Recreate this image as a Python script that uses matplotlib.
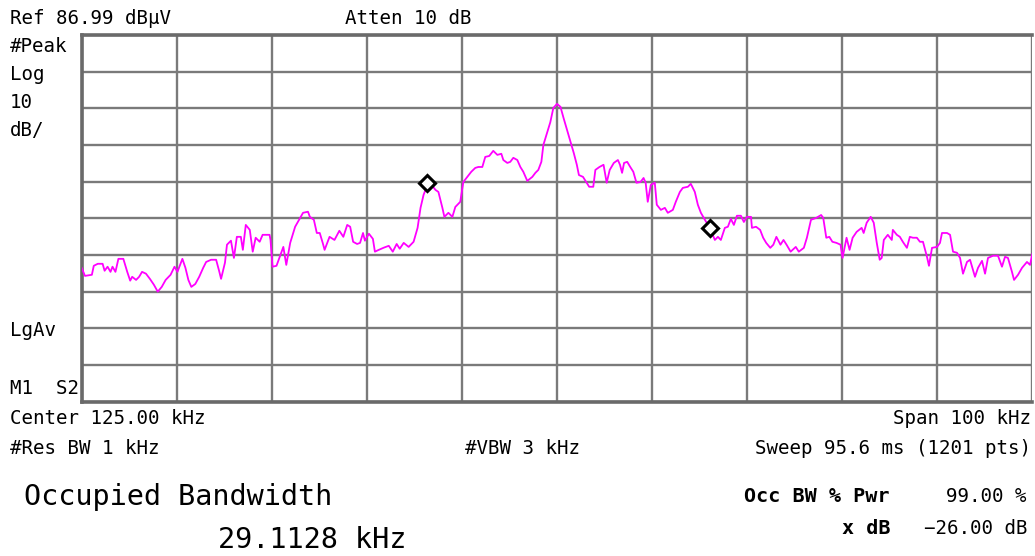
import numpy as np
import matplotlib
matplotlib.use("Agg")
import matplotlib.pyplot as plt

# spectrum trace (kHz, dBuV)
freq_khz = [
    75.0, 75.34, 76.07, 76.27, 76.69, 77.20, 77.41, 77.72, 78.03, 78.24, 78.55, 78.86,
    79.38, 79.79, 80.10, 80.31, 80.72, 81.04, 81.35, 81.76, 82.17, 82.59, 83.00, 83.42,
    83.83, 84.35, 84.76, 85.07, 85.59, 85.91, 86.22, 86.53, 86.95, 87.36, 87.78, 88.09,
    88.61, 89.14, 89.45, 89.66, 90.07, 90.28, 90.70, 91.01, 91.32, 91.74,
    91.95, 92.26, 92.68, 92.99, 93.30, 93.72, 94.03, 94.76, 94.86,
    95.07, 95.49, 95.90, 96.21, 96.52, 96.93, 97.45, 97.97, 98.28, 98.80, 99.00, 99.42,
    99.73, 100.04, 100.35, 100.55, 101.07, 101.59, 102.10, 102.52, 102.93, 103.24, 103.55,
    103.97, 104.28, 104.59, 104.79,
    105.21, 105.63, 105.84, 106.25, 106.78, 107.30, 107.72, 108.13, 108.45,
    108.87, 109.39, 109.91, 110.33, 110.64, 110.96, 111.37, 111.90, 112.21, 112.52, 112.94,
    113.15, 113.57, 113.99, 114.30, 114.82,
    115.14, 115.56, 115.98, 116.40, 116.72, 117.14, 117.45, 117.87, 118.29, 118.72, 119.14,
    119.35, 119.77, 120.08, 120.40, 120.82, 121.14, 121.45, 121.87, 122.40, 122.72, 123.03,
    123.35, 123.56, 123.98, 124.29, 124.61, 125.0,
    125.36, 125.68, 126.11, 126.44, 126.76, 127.08, 127.30, 127.73, 128.06, 128.38, 128.81,
    129.03, 129.46, 129.89, 130.22, 130.54, 130.97, 131.40, 131.62, 131.84, 132.05, 132.38,
    132.70, 133.02, 133.35, 133.78, 134.10, 134.32, 134.54, 134.86,
    135.28, 135.49, 135.92, 136.34, 136.65, 137.18, 137.49, 137.92, 138.23, 138.76, 139.07,
    139.49, 139.81, 140.13, 140.55, 141.07, 141.60, 141.92, 142.23, 142.65, 142.97, 143.28,
    143.60, 143.92, 144.34, 144.65, 144.97,
    145.40, 145.50, 145.93, 146.36, 146.68, 147.00, 147.43, 147.75, 148.07, 148.50, 148.82,
    149.14, 149.57, 150.11, 150.43, 150.96, 151.28, 151.71, 152.25, 152.78, 153.00, 153.32,
    153.64, 153.96, 154.39, 154.82,
    155.03, 155.45, 155.77, 156.09, 156.51, 157.04, 157.25, 157.57, 157.99, 158.31, 158.63,
    158.94, 159.15, 159.37, 159.79, 160.21, 160.32, 160.74, 161.06, 161.37, 161.80, 162.11,
    162.43, 162.85, 163.17, 163.49, 163.91, 164.12, 164.44,
    164.97, 165.28, 165.49, 166.02, 166.34, 166.65, 167.07, 167.39, 167.70, 168.12, 168.44,
    168.96, 169.28, 169.70, 170.02, 170.33, 170.86, 171.38, 171.80, 172.12, 172.43, 172.85,
    173.07, 173.49, 173.91, 174.43, 174.75, 175.0,
]
level_dbuv = [
    23.5, 21.3, 21.6, 24.05, 24.6, 24.6, 22.7, 23.8, 22.4, 23.8, 22.4, 25.95,
    25.95, 22.4, 20.0, 21.05, 20.2, 21.05, 22.4, 21.9, 20.5, 18.9, 17.0, 18.3,
    20.2, 21.6, 23.8, 22.4, 25.95, 23.5, 20.2, 18.3, 19.1, 21.05, 23.5, 25.1,
    25.7, 25.7, 22.7, 20.5, 24.9, 29.8, 30.9, 26.2, 31.95, 31.95,
    28.4, 35.2, 33.85, 27.9, 31.7, 30.6, 32.5, 32.5, 31.1,
    23.8, 24.05, 27.0, 29.2, 24.3, 30.3, 34.7, 37.1, 38.5, 38.8, 37.4, 36.6,
    33.0, 33.0, 30.3, 28.4, 31.95, 31.1, 33.6, 31.95, 35.2, 34.7, 30.6,
    30.0, 30.3, 33.0, 30.9,
    32.8, 31.4, 27.9, 28.4, 29.0, 29.5, 27.9, 30.0, 28.7,
    30.3, 29.2, 30.6, 34.4, 39.85, 43.4, 46.1, 45.8, 44.75, 44.2, 39.85,
    37.4, 38.5, 37.4, 40.1, 41.5,
    46.9, 48.3, 49.7, 50.75, 51.0, 51.0, 53.75, 54.0, 55.4, 54.3, 54.6,
    52.9, 52.1, 52.4, 53.5, 52.9, 51.0, 49.7, 47.2, 48.3, 49.4, 50.2,
    52.4, 57.0, 60.6, 63.2, 67.1, 68.2,
    67.4, 64.4, 60.6, 57.6, 54.8, 51.6, 48.8, 48.3, 46.9, 45.6, 45.6,
    50.2, 51.0, 51.6, 46.7, 50.2, 52.1, 52.9, 51.6, 49.4, 52.1, 52.4,
    51.0, 49.7, 46.7, 46.9, 48.0, 46.7, 41.5, 46.1,
    46.7, 40.7, 39.3, 39.85, 38.5, 39.3, 41.5, 44.2, 45.3, 45.6, 46.4,
    44.2, 40.7, 38.5, 36.6, 34.4, 31.1, 31.95, 31.1, 34.4, 34.7, 36.85,
    35.2, 37.7, 37.7, 36.0, 37.4,
    37.4, 34.4, 34.7, 33.85, 31.7, 30.3, 28.95, 29.8, 31.95, 29.8, 31.1,
    29.8, 27.9, 29.2, 27.9, 28.95, 31.7, 36.6, 37.1, 37.9, 37.1, 31.7,
    31.95, 30.6, 30.3, 29.8,
    26.2, 31.7, 28.4, 31.7, 33.3, 34.4, 33.0, 35.8, 37.4, 35.8, 30.3,
    25.7, 26.2, 31.1, 32.5, 31.1, 33.85, 32.5, 31.95, 30.6, 28.95, 31.95,
    31.7, 31.7, 30.6, 30.6, 26.5, 24.05, 28.95,
    29.2, 30.3, 33.0, 33.0, 32.5, 27.9, 27.6, 26.2, 21.9, 25.1, 25.7,
    21.05, 23.5, 25.4, 21.9, 26.2, 26.8, 26.8, 23.8, 26.5, 26.2, 22.4,
    20.2, 21.6, 23.5, 25.1, 24.3, 27.3,
]

# occupied bandwidth markers (lower / upper edge)
marker_khz = [111.37, 141.07]
marker_dbuv = [46.6, 34.4]

ref_level = 86.99
db_per_div = 10
center_khz = 125.0
span_khz = 100.0

W, H = 1035, 556
fig = plt.figure(figsize=(W / 100, H / 100), dpi=100)
fig.patch.set_facecolor("white")

ax = fig.add_axes([81.7 / W, 1 - 401.7 / H, (1032.4 - 81.7) / W, (401.7 - 35) / H])
ax.set_xlim(center_khz - span_khz / 2, center_khz + span_khz / 2)
ax.set_ylim(ref_level - 10 * db_per_div, ref_level)
ax.set_xticks(np.arange(center_khz - span_khz / 2, center_khz + span_khz / 2 + 1, span_khz / 10))
ax.set_yticks(np.arange(ref_level - 10 * db_per_div, ref_level + 1, db_per_div))
ax.grid(True, color="#7a7a7a", linewidth=1.7)
ax.tick_params(length=0, labelbottom=False, labelleft=False)
for sp in ax.spines.values():
    sp.set_color("#6a6a6a")
    sp.set_linewidth(2.6)
# the screen capture cuts off the right edge of the graticule
ax.spines["right"].set_visible(False)

ax.plot(freq_khz, level_dbuv, color="#ff00ff", linewidth=1.3, zorder=3)
ax.plot(marker_khz, marker_dbuv, linestyle="none", marker="D", markersize=8,
        markerfacecolor="white", markeredgecolor="black", markeredgewidth=2.2, zorder=4)

mono = "DejaVu Sans Mono"
fs = 13.8


def label(x, y, s, size=fs, weight="normal", ha="left"):
    fig.text(x / W, 1 - y / H, s, fontsize=size, family=mono, weight=weight,
             ha=ha, va="center", color="black")


label(10, 18, "Ref 86.99 dBμV")
label(345, 18, "Atten 10 dB")
label(10, 46, "#Peak")
label(10, 74, "Log")
label(10, 102, "10")
label(10, 130, "dB/")
label(10, 331, "LgAv")
label(10, 388, "M1  S2")
label(10, 418, "Center 125.00 kHz")
label(893, 418, "Span 100 kHz")
label(10, 449, "#Res BW 1 kHz")
label(465, 449, "#VBW 3 kHz")
label(755, 449, "Sweep 95.6 ms (1201 pts)")

label(24, 497, "Occupied Bandwidth", size=20.5)
label(218, 540, "29.1128 kHz", size=20.5)

label(890, 497, "Occ BW % Pwr", size=14.5, weight="bold", ha="right")
label(1027, 497, "99.00 %", ha="right")
label(890, 529, "x dB", size=14.5, weight="bold", ha="right")
label(1027, 529, "\u221226.00 dB", ha="right")

fig.savefig("out.png", dpi=100, facecolor="white")
